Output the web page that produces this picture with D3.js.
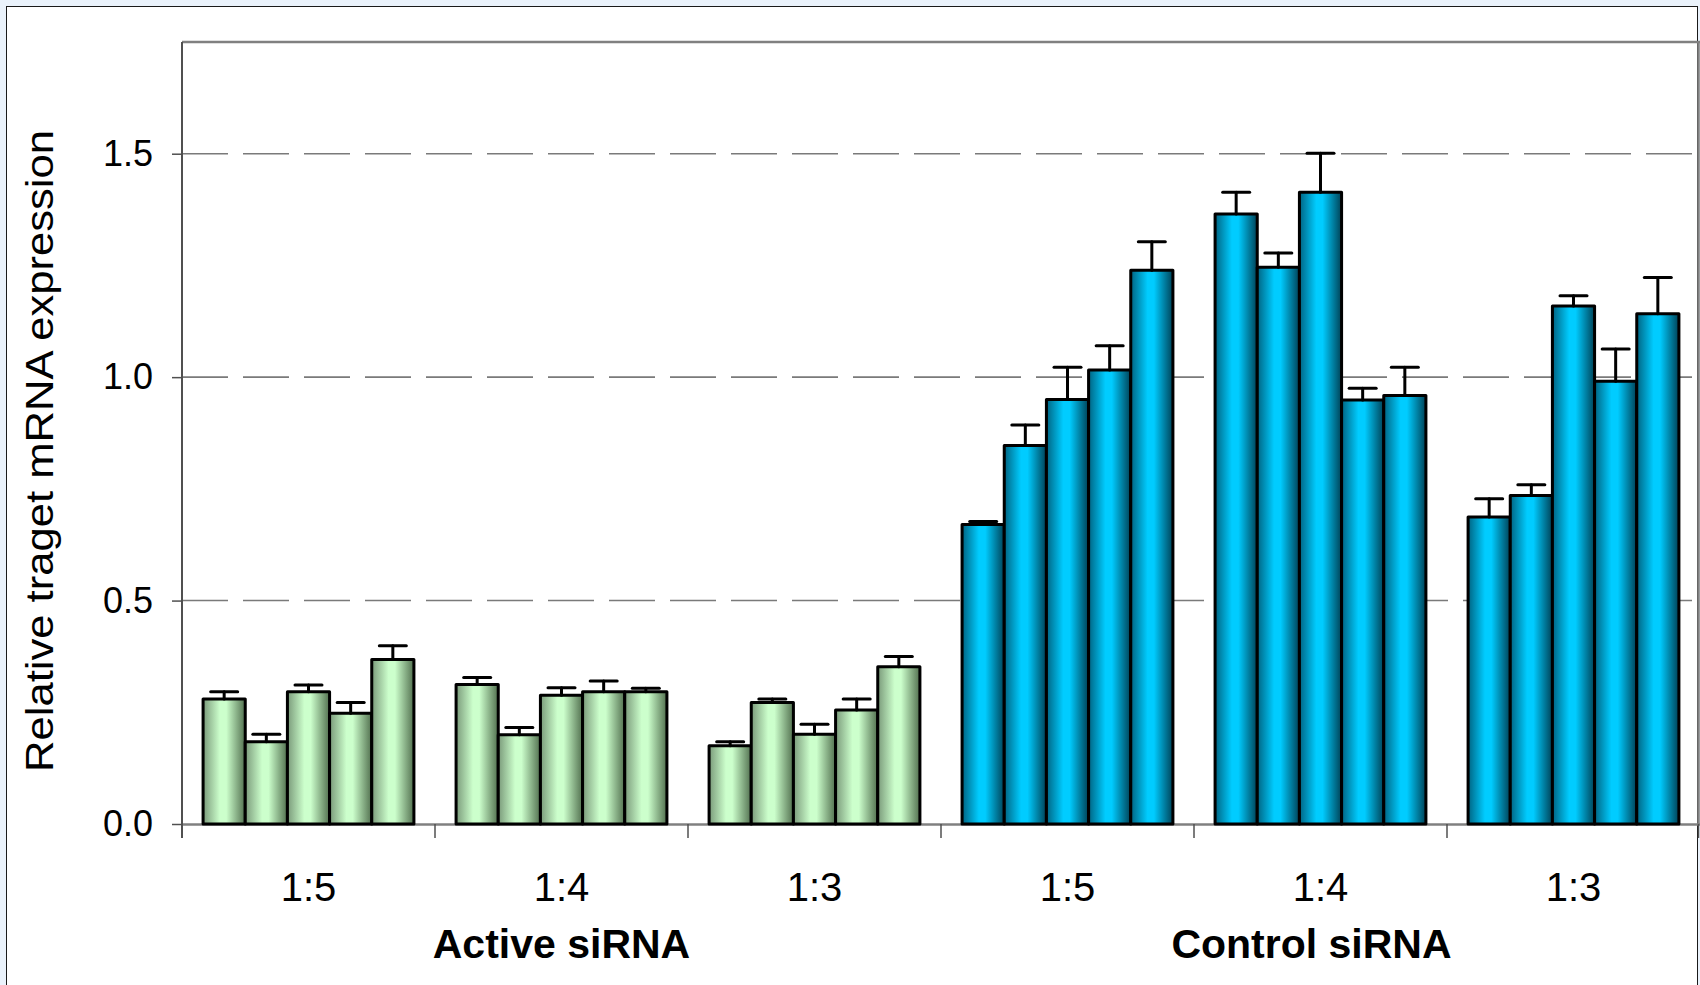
<!DOCTYPE html>
<html>
<head>
<meta charset="utf-8">
<script src="https://cdn.jsdelivr.net/npm/d3@7"></script>
<style>
  body { margin: 0; background: #eaf2fb; }
  text { font-family: "Liberation Sans", Arial, sans-serif; }
</style>
</head>
<body>
<div id="chart"></div>
<script>
// ratio labels under each group of bars
var ratios = ["1:5", "1:4", "1:3", "1:5", "1:4", "1:3"];
// which siRNA each group belongs to
var treatments = ["Active siRNA", "Control siRNA"];
var treatOf = [0, 0, 0, 1, 1, 1];

// five bars per group
var active15 = [0.280, 0.184, 0.296, 0.248, 0.368];
var active14 = [0.312, 0.200, 0.288, 0.296, 0.296];
var active13 = [0.175, 0.272, 0.201, 0.255, 0.352];
var control15 = [0.670, 0.847, 0.950, 1.016, 1.239];
var control14 = [1.365, 1.246, 1.414, 0.949, 0.959];
var control13 = [0.687, 0.735, 1.159, 0.991, 1.142];

// upper error bars
var active15Err = [0.016, 0.017, 0.015, 0.024, 0.031];
var active14Err = [0.016, 0.016, 0.017, 0.024, 0.008];
var active13Err = [0.009, 0.008, 0.022, 0.025, 0.023];
var control15Err = [0.007, 0.046, 0.072, 0.054, 0.064];
var control14Err = [0.049, 0.032, 0.087, 0.026, 0.063];
var control13Err = [0.041, 0.024, 0.023, 0.072, 0.081];

var yTicks = [0, 0.5, 1.0, 1.5];
var yTitle = "Relative traget mRNA expression";

var values = [active15, active14, active13, control15, control14, control13];
var errors = [active15Err, active14Err, active13Err, control15Err, control14Err, control13Err];

var width = 1700, height = 985;
// note: "top" is taken by window.top, so plot edges get their own names
var plotL = 182, plotR = 1700, plotT = 42, plotB = 824;

var svg = d3.select("#chart").append("svg")
  .attr("width", width)
  .attr("height", height);

// gradients for the bars (dark - light - dark)
var defs = svg.append("defs");
function grad(id, edgeL, mid, edgeR) {
  var g = defs.append("linearGradient").attr("id", id)
    .attr("x1", 0).attr("x2", 1).attr("y1", 0).attr("y2", 0);
  g.append("stop").attr("offset", "0%").attr("stop-color", edgeL);
  g.append("stop").attr("offset", "40%").attr("stop-color", mid);
  g.append("stop").attr("offset", "55%").attr("stop-color", mid);
  g.append("stop").attr("offset", "100%").attr("stop-color", edgeR);
}
grad("gGreen", "#7a9a7a", "#ccffcc", "#52704f");
grad("gBlue", "#006482", "#00ccff", "#004257");

// white panel
svg.append("rect")
  .attr("x", 6.5).attr("y", 6.5)
  .attr("width", 1691).attr("height", 990)
  .attr("fill", "white")
  .attr("stroke", "#1a1a1a")
  .attr("stroke-width", 1);

var keys = d3.range(ratios.length);

var x0 = d3.scaleBand()
  .domain(keys)
  .range([plotL, plotR])
  .paddingInner(0).paddingOuter(0);

var x1 = d3.scaleBand()
  .domain(d3.range(5))
  .range([0, x0.bandwidth()])
  .paddingInner(0).paddingOuter(0.5);

var y = d3.scaleLinear()
  .domain([0, 1.75])
  .range([plotB, plotT]);

// dashed gridlines
svg.append("g").selectAll("line")
  .data(yTicks.filter(function(d) { return d > 0; }))
  .enter().append("line")
  .attr("x1", plotL).attr("x2", plotR)
  .attr("y1", function(d) { return y(d); })
  .attr("y2", function(d) { return y(d); })
  .attr("stroke", "#7a7a7a")
  .attr("stroke-width", 1.6)
  .attr("stroke-dasharray", "46,15");

// plot frame, top and right
svg.append("line")
  .attr("x1", plotL).attr("x2", plotR)
  .attr("y1", y(1.75)).attr("y2", y(1.75))
  .attr("stroke", "#808080").attr("stroke-width", 2.5);
svg.append("line")
  .attr("x1", plotR - 1.5).attr("x2", plotR - 1.5)
  .attr("y1", y(1.75)).attr("y2", y(0))
  .attr("stroke", "#808080").attr("stroke-width", 2.5);

// baseline
svg.append("line")
  .attr("x1", plotL).attr("x2", plotR)
  .attr("y1", y(0) + 0.5).attr("y2", y(0) + 0.5)
  .attr("stroke", "#808080").attr("stroke-width", 2.5);

// bars
var groups = svg.append("g").selectAll("g")
  .data(keys)
  .enter().append("g")
  .attr("transform", function(i) { return "translate(" + x0(i) + ",0)"; });

groups.selectAll("rect")
  .data(function(i) {
    return values[i].map(function(v, j) { return {v: v, j: j, t: treatOf[i]}; });
  })
  .enter().append("rect")
  .attr("x", function(d) { return x1(d.j); })
  .attr("y", function(d) { return y(d.v); })
  .attr("width", x1.bandwidth())
  .attr("height", function(d) { return y(0) - y(d.v); })
  .attr("fill", function(d) { return d.t == 0 ? "url(#gGreen)" : "url(#gBlue)"; })
  .attr("stroke", "black")
  .attr("stroke-width", 3)
  .attr("stroke-linejoin", "round");

// error bars (upper only)
var errs = groups.selectAll("g.err")
  .data(function(i) {
    return values[i].map(function(v, j) { return {v: v, e: errors[i][j], j: j}; });
  })
  .enter().append("g")
  .attr("class", "err")
  .attr("stroke", "black")
  .attr("stroke-width", 3)
  .attr("stroke-linecap", "round");

errs.append("line")
  .attr("x1", function(d) { return x1(d.j) + x1.bandwidth() / 2; })
  .attr("x2", function(d) { return x1(d.j) + x1.bandwidth() / 2; })
  .attr("y1", function(d) { return y(d.v); })
  .attr("y2", function(d) { return y(d.v + d.e); });

errs.append("line")
  .attr("x1", function(d) { return x1(d.j) + x1.bandwidth() / 2 - 13.5; })
  .attr("x2", function(d) { return x1(d.j) + x1.bandwidth() / 2 + 13.5; })
  .attr("y1", function(d) { return y(d.v + d.e); })
  .attr("y2", function(d) { return y(d.v + d.e); });

// y axis
var yAxis = svg.append("g")
  .attr("transform", "translate(" + plotL + ",0)")
  .call(d3.axisLeft(y).tickValues(yTicks).tickFormat(d3.format(".1f"))
    .tickSize(10).tickPadding(19).tickSizeOuter(0));
yAxis.select(".domain").attr("stroke", "#505050").attr("stroke-width", 2)
  .attr("d", "M0," + y(1.75) + "V" + (y(0) + 14));
yAxis.selectAll(".tick line").attr("stroke", "#505050").attr("stroke-width", 1.5);
yAxis.selectAll("text")
  .attr("font-size", 36)
  .attr("font-family", "Liberation Sans, Arial, sans-serif")
  .attr("fill", "black");

// x axis: labels in the middle of each group, ticks on the group borders
var xAxis = svg.append("g")
  .attr("transform", "translate(0," + plotB + ")")
  .call(d3.axisBottom(x0).tickFormat(function(i) { return ratios[i]; })
    .tickSize(0).tickPadding(49));
xAxis.select(".domain").remove();
xAxis.selectAll("text")
  .attr("font-size", 40)
  .attr("font-family", "Liberation Sans, Arial, sans-serif")
  .attr("fill", "black");

svg.append("g").selectAll("line")
  .data(keys.concat([keys.length]))
  .enter().append("line")
  .attr("x1", function(i) { return i < keys.length ? x0(i) : plotR - 1.5; })
  .attr("x2", function(i) { return i < keys.length ? x0(i) : plotR - 1.5; })
  .attr("y1", plotB)
  .attr("y2", plotB + 14)
  .attr("stroke", "#505050")
  .attr("stroke-width", 1.5);

// treatment labels under the ratio labels
svg.append("g").selectAll("text")
  .data(treatments)
  .enter().append("text")
  .attr("x", function(t, k) {
    var mine = keys.filter(function(i) { return treatOf[i] == k; });
    var cx = d3.mean(mine, function(i) { return x0(i) + x0.bandwidth() / 2; });
    return k == 1 ? cx - 9 : cx;
  })
  .attr("y", 958)
  .attr("text-anchor", "middle")
  .attr("font-size", 41)
  .attr("font-weight", "bold")
  .text(function(t) { return t; });

// y title, stretched a bit to match the original length
svg.append("text")
  .attr("transform", "translate(53," + ((y(0) + y(1.75)) / 2 + 18) + ") rotate(-90)")
  .attr("text-anchor", "middle")
  .attr("font-size", 39)
  .attr("textLength", 642)
  .attr("lengthAdjust", "spacingAndGlyphs")
  .text(yTitle);
</script>
</body>
</html>
